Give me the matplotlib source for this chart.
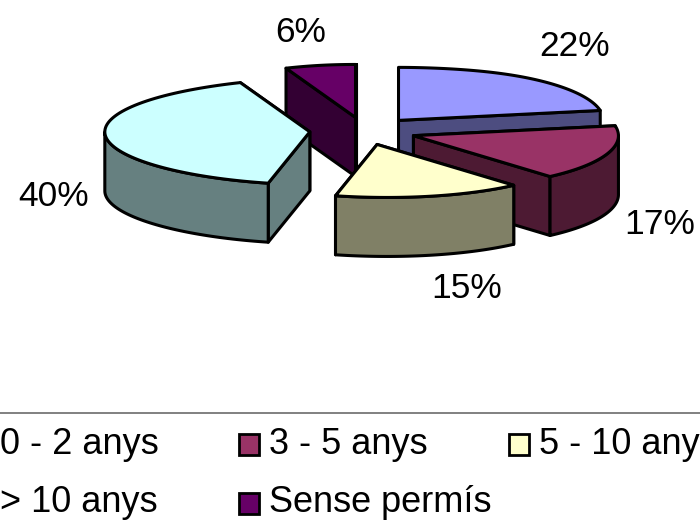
import numpy as np
import matplotlib
matplotlib.use('Agg')
import matplotlib.pyplot as plt
from matplotlib.patches import Polygon, Rectangle

plt.rcParams['font.family'] = ['Liberation Sans', 'DejaVu Sans']

names = ['0 - 2 anys', '3 - 5 anys', '5 - 10 anys', '> 10 anys', 'Sense permís']
values = [22, 17, 15, 40, 6]
top_colors = ['#9999FF', '#993366', '#FFFFCC', '#CCFFFF', '#660066']
side_colors = ['#4D4D80', '#4D1A33', '#808066', '#668080', '#330033']

# pie geometry, in pixels
cx, cy = 363, 131
rx, ry = 205, 53
depth = 59
explode = 0.26
skew = 10   # front and back of the pie sit a bit to the right
lw = 2.2


def rim(x, y, a):
    # the 12 o'clock edge has to stay vertical, so no skew right at the top
    c = np.cos(a)
    s = skew*c**2*(1 - max(c, 0)**16)
    return (x + rx*np.sin(a) + s, y - ry*c)


fig = plt.figure(figsize=(7, 5.21), dpi=100)
ax = fig.add_axes([0, 0, 1, 1])
ax.set_xlim(0, 700)
ax.set_ylim(521, 0)
ax.axis('off')

fracs = np.array(values)/sum(values)
edges = np.concatenate([[0], np.cumsum(fracs)])*2*np.pi

wedges = []
for i in range(len(values)):
    a0, a1 = edges[i], edges[i+1]
    mid = (a0+a1)/2
    ox = cx + explode*(rx*np.sin(mid) + skew*np.cos(mid)**2)
    oy = cy - explode*ry*np.cos(mid)
    wedges.append((oy, ox, a0, a1, i))

# back to front
for oy, ox, a0, a1, i in sorted(wedges, key=lambda w: w[0]):
    style = dict(edgecolor='black', linewidth=lw, joinstyle='round')
    # cut faces, the one further back first
    for a in sorted([a0, a1], key=lambda a: rim(ox, oy, a)[1]):
        ex, ey = rim(ox, oy, a)
        ax.add_patch(Polygon([(ox, oy), (ex, ey), (ex, ey+depth), (ox, oy+depth)],
                             facecolor=side_colors[i], **style))
    # rim, front half only
    lo, hi = max(a0, np.pi/2), min(a1, 3*np.pi/2)
    if lo < hi:
        arc = np.linspace(lo, hi, 60)
        upper = [rim(ox, oy, a) for a in arc]
        lower = [(x, y+depth) for x, y in upper[::-1]]
        ax.add_patch(Polygon(upper+lower, facecolor=side_colors[i], **style))
    # top face
    arc = np.linspace(a0, a1, 80)
    ax.add_patch(Polygon([(ox, oy)]+[rim(ox, oy, a) for a in arc],
                         facecolor=top_colors[i], **style))

# percentage labels
label_x = [575, 660, 467, 54, 301]
label_y = [46, 224, 289, 197, 33]
for v, x, y in zip(values, label_x, label_y):
    ax.text(x, y, '%d%%' % v, fontsize=25.5, ha='center', va='center', color='black')

# legend, cut off by the edges of the picture
ax.plot([0, 700], [413, 413], color='#808080', lw=1.4, solid_capstyle='butt')
leg_x = [-30, 239, 509, -30, 239]
leg_y = [444, 444, 444, 503, 503]
for i in range(len(names)):
    ax.add_patch(Rectangle((leg_x[i], leg_y[i]-10), 20, 21, facecolor=top_colors[i],
                           edgecolor='black', linewidth=2.0))
    ax.text(leg_x[i]+30, leg_y[i], names[i], fontsize=26, ha='left', va='center',
            color='black', clip_on=True)

fig.savefig('out.png', dpi=100)
